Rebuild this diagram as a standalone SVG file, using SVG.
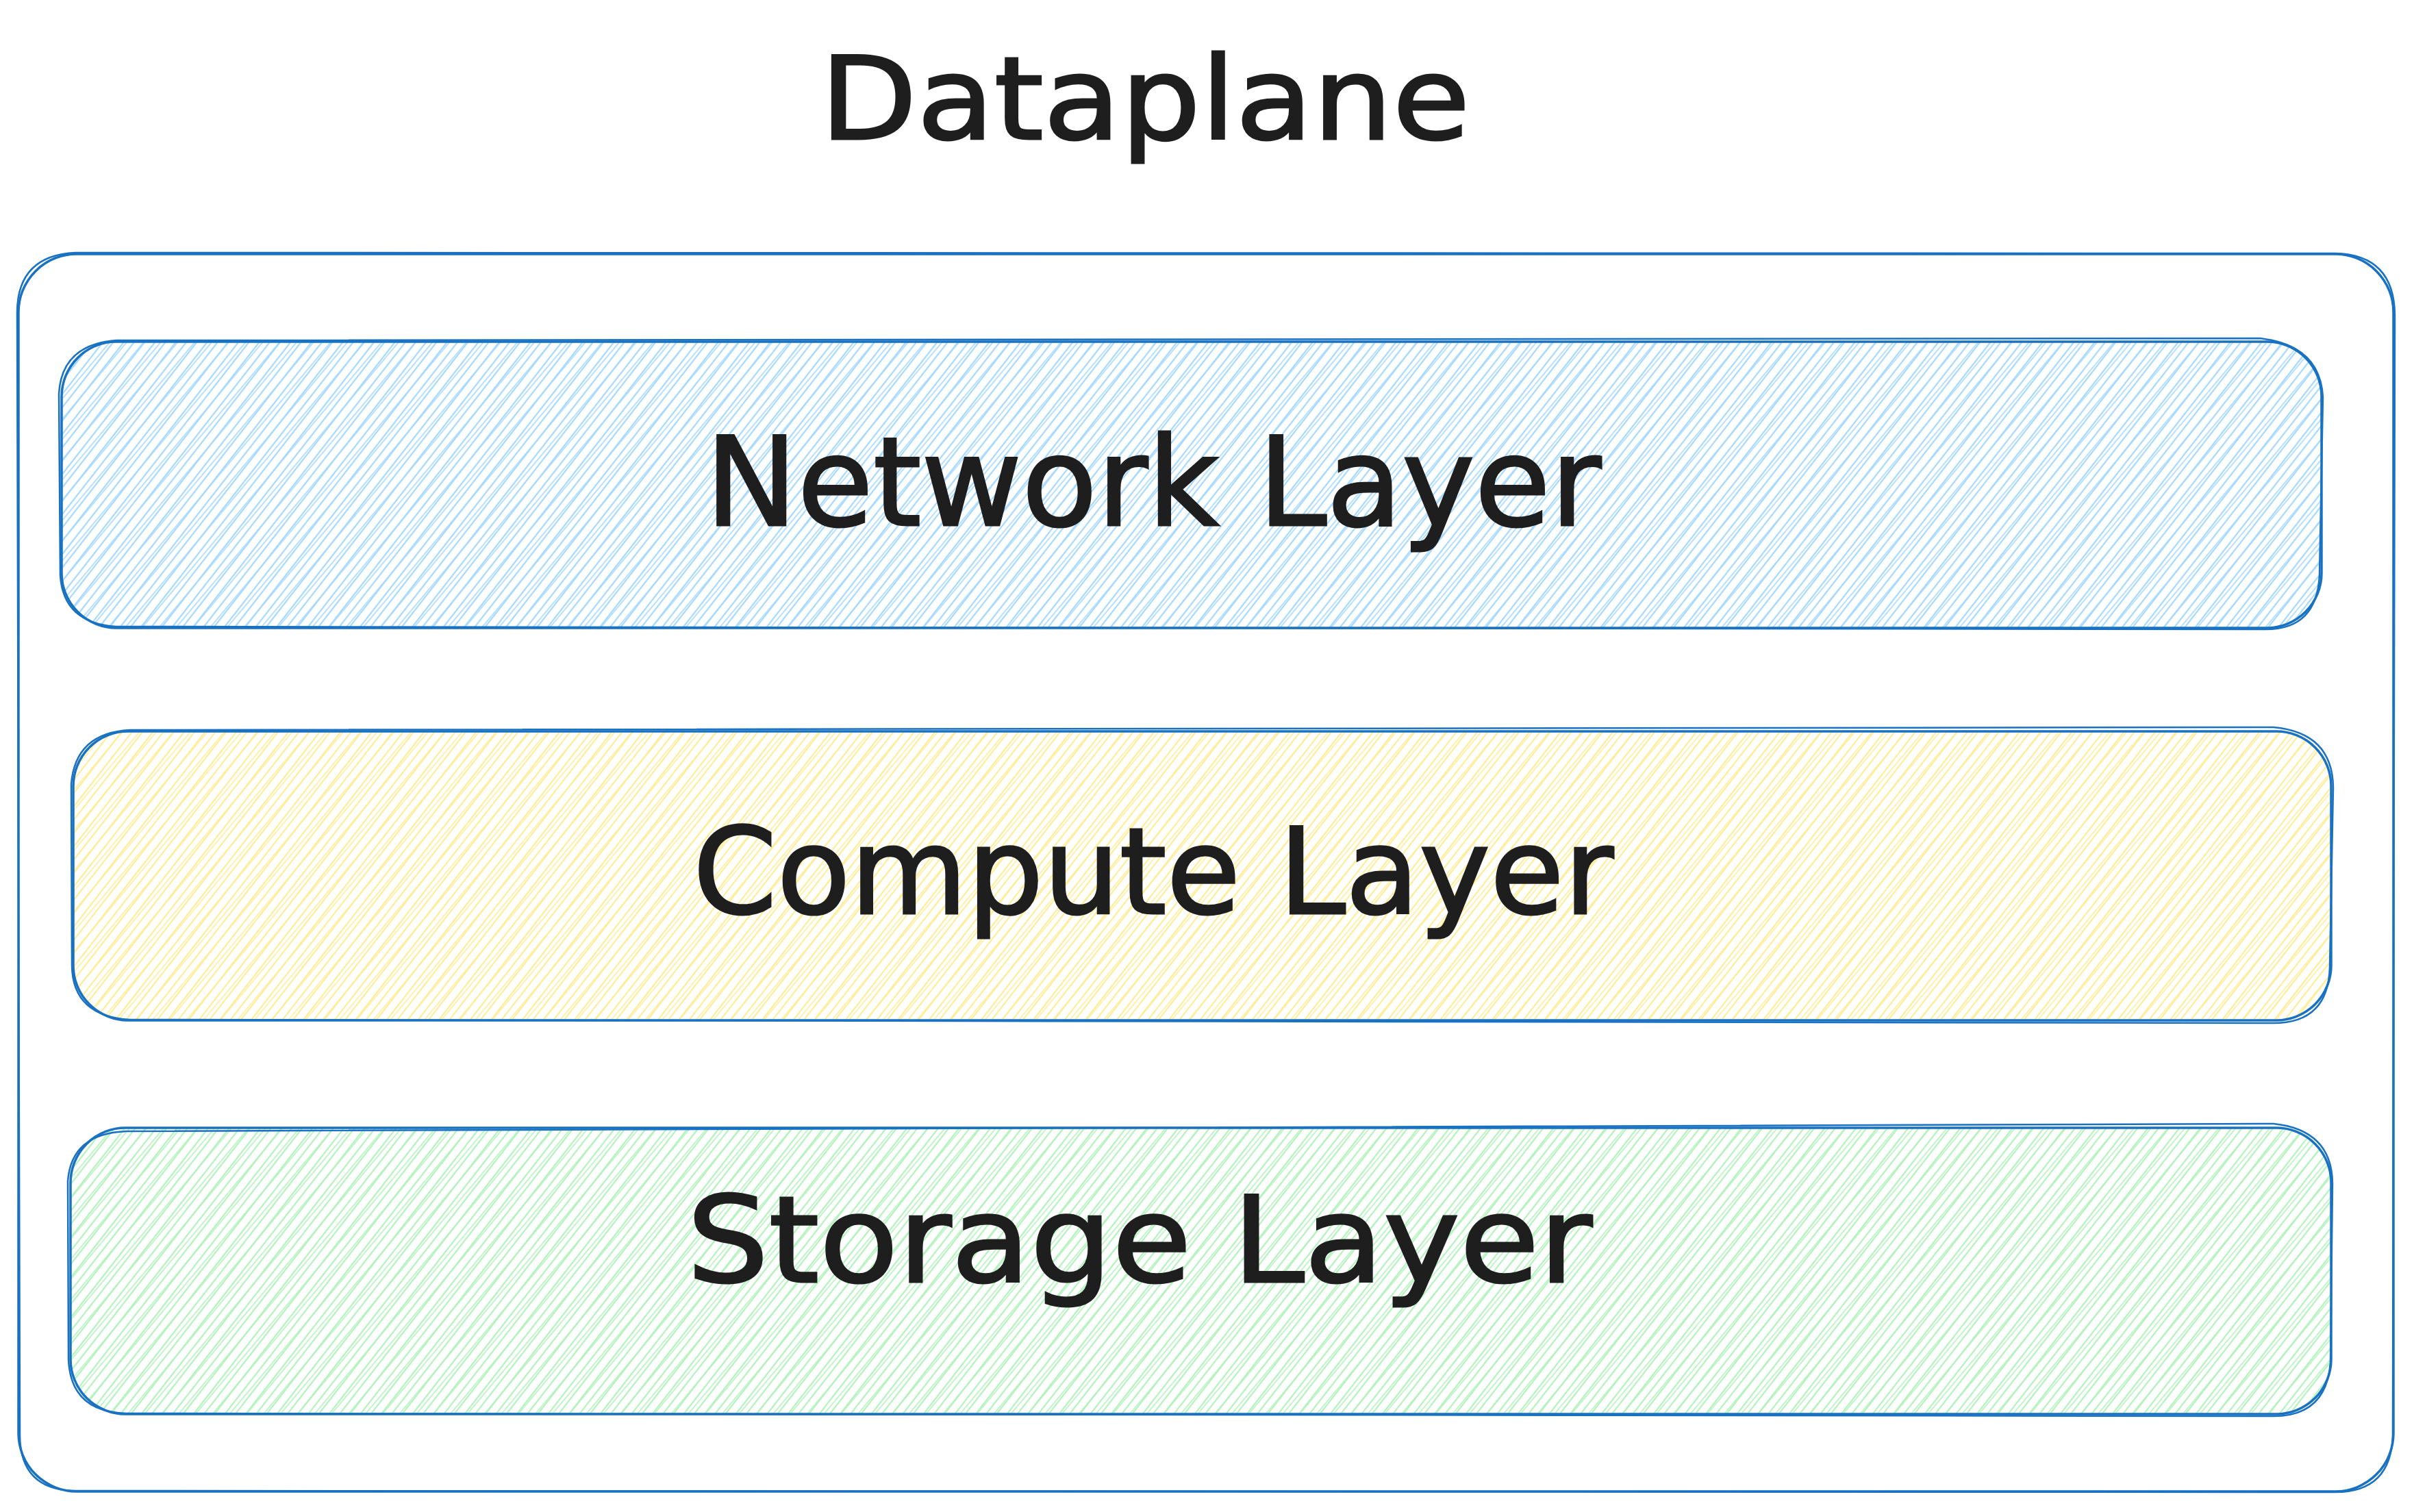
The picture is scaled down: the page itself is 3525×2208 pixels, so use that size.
<svg xmlns="http://www.w3.org/2000/svg" width="3525" height="2208" viewBox="0 0 3525 2208">
<defs>
<pattern id="hBlue" patternUnits="userSpaceOnUse" width="12" height="12" patternTransform="rotate(38)"><line x1="6" y1="0" x2="6" y2="12" stroke="#a5d8ff" stroke-width="2.2"/></pattern>
<pattern id="hBlue2" patternUnits="userSpaceOnUse" width="19" height="19" patternTransform="rotate(40) translate(4 0)"><line x1="3" y1="0" x2="3" y2="19" stroke="#a5d8ff" stroke-width="1.6"/></pattern>
<pattern id="hYellow" patternUnits="userSpaceOnUse" width="12" height="12" patternTransform="rotate(38)"><line x1="6" y1="0" x2="6" y2="12" stroke="#ffec99" stroke-width="2.2"/></pattern>
<pattern id="hYellow2" patternUnits="userSpaceOnUse" width="19" height="19" patternTransform="rotate(40) translate(4 0)"><line x1="3" y1="0" x2="3" y2="19" stroke="#ffec99" stroke-width="1.6"/></pattern>
<pattern id="hGreen" patternUnits="userSpaceOnUse" width="12" height="12" patternTransform="rotate(38)"><line x1="6" y1="0" x2="6" y2="12" stroke="#b2f2bb" stroke-width="2.2"/></pattern>
<pattern id="hGreen2" patternUnits="userSpaceOnUse" width="19" height="19" patternTransform="rotate(40) translate(4 0)"><line x1="3" y1="0" x2="3" y2="19" stroke="#b2f2bb" stroke-width="1.6"/></pattern>
</defs>
<style>
.edge{fill:none;stroke:#1971c2;stroke-width:3.5;stroke-linecap:round;stroke-linejoin:round}
.edge2{fill:none;stroke:#1971c2;stroke-width:2.5;stroke-linecap:round;stroke-linejoin:round}
.lbl{font-family:"DejaVu Sans","Liberation Sans",sans-serif;fill:#1e1e1e;stroke:#1e1e1e;stroke-width:3;text-anchor:middle}
</style>
<rect width="3525" height="2208" fill="#ffffff"/>

<g id="title">
<text class="lbl" x="1672" y="203" font-size="168" textLength="949" lengthAdjust="spacingAndGlyphs">Dataplane</text>
</g>

<g id="dataplane">
<rect class="edge" x="27" y="371" width="3468" height="1807" rx="85" ry="85"/>
<path class="edge2" d="M110 369 L3410 370 Q3496 372 3497 460 L3494 2095 Q3492 2179 3410 2179 L110 2177 Q29 2176 29 2095 L25 455 Q26 373 110 369 Z"/>
</g>

<g id="network-layer">
<rect x="90" y="499" width="3300" height="418" rx="80" ry="80" fill="url(#hBlue)"/>
<rect x="90" y="499" width="3300" height="418" rx="80" ry="80" fill="url(#hBlue2)"/>
<rect class="edge" x="90" y="499" width="3300" height="418" rx="80" ry="80"/>
<path class="edge2" d="M170 497 L3300 494 Q3388 504 3392 580 L3387 840 Q3383 921 3305 919 L170 915 Q92 910 88 840 L86 575 Q90 503 170 497 Z"/>
<text class="lbl" x="1684" y="767" font-size="180" textLength="1308" lengthAdjust="spacingAndGlyphs">Network Layer</text>
</g>

<g id="compute-layer">
<rect x="107" y="1068" width="3297" height="422" rx="80" ry="80" fill="url(#hYellow)"/>
<rect x="107" y="1068" width="3297" height="422" rx="80" ry="80" fill="url(#hYellow2)"/>
<rect class="edge" x="107" y="1068" width="3297" height="422" rx="80" ry="80"/>
<path class="edge2" d="M190 1066 L3320 1062 Q3406 1070 3407 1150 L3402 1412 Q3400 1494 3320 1494 L190 1489 Q106 1484 105 1410 L104 1145 Q110 1070 190 1066 Z"/>
<text class="lbl" x="1684" y="1334" font-size="175" textLength="1344" lengthAdjust="spacingAndGlyphs">Compute Layer</text>
</g>

<g id="storage-layer">
<rect x="103" y="1647" width="3301" height="418" rx="80" ry="80" fill="url(#hGreen)"/>
<rect x="103" y="1647" width="3301" height="418" rx="80" ry="80" fill="url(#hGreen2)"/>
<rect class="edge" x="103" y="1647" width="3301" height="418" rx="80" ry="80"/>
<path class="edge2" d="M185 1652 L3320 1641 Q3405 1650 3406 1728 L3403 1990 Q3397 2068 3320 2068 L185 2064 Q103 2062 100 1985 L99 1725 Q104 1655 185 1652 Z"/>
<text class="lbl" x="1664" y="1872" font-size="175" textLength="1322" lengthAdjust="spacingAndGlyphs">Storage Layer</text>
</g>

<g id="connectors"></g>
</svg>
